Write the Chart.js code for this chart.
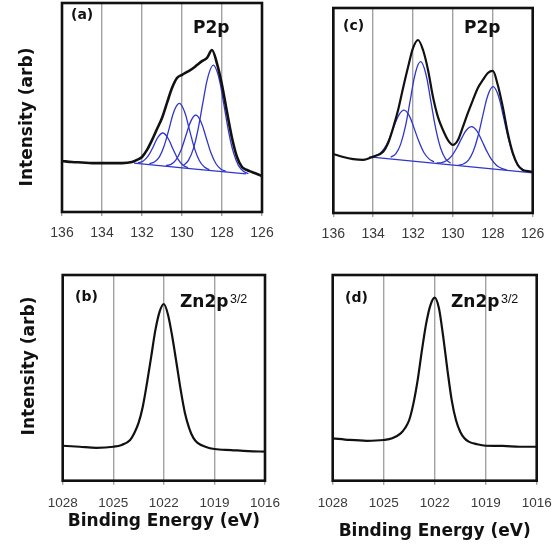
<!DOCTYPE html>
<html>
<head>
<meta charset="utf-8">
<script src="https://cdn.jsdelivr.net/npm/chart.js@4.4.1/dist/chart.umd.min.js"></script>
<style>
  body { margin: 0; background: #fff; }
  #wrap { position: relative; width: 552px; height: 545px; background: #fff; overflow: hidden; }
  #wrap canvas { position: absolute; }
</style>
</head>
<body>
<div id="wrap">
  <canvas id="panelA" width="290" height="250" style="left:0;top:0"></canvas>
  <canvas id="panelC" width="276" height="250" style="left:276px;top:0"></canvas>
  <canvas id="panelB" width="290" height="295" style="left:0;top:250px"></canvas>
  <canvas id="panelD" width="276" height="295" style="left:276px;top:250px"></canvas>
</div>
<script>
// tick labels
const pTicks = [136, 134, 132, 130, 128, 126];
const znTicks = [1028, 1025, 1022, 1019, 1016];

// (a) P2p measured spectrum
const aEnergy = [136, 135.5, 135, 134.5, 134, 133.5, 133, 132.5, 132.25, 132, 131.75, 131.5, 131.25, 131, 130.75, 130.5, 130.25, 130, 129.75, 129.5, 129.25, 129, 128.75, 128.5, 128.25, 128, 127.75, 127.5, 127.25, 127, 126.75, 126.5, 126.25, 126];
const aData = [24.4, 23.9, 23.7, 23.4, 23.4, 23.4, 23.4, 23.9, 24.9, 26.3, 29.7, 34.4, 39.7, 45.0, 52.2, 59.3, 64.1, 65.6, 67.0, 68.4, 70.3, 72.2, 73.7, 77.5, 71.0, 60.8, 47.8, 35.4, 26.3, 21.5, 20.1, 19.1, 18.2, 17.2];
// (a) fitted components + background
const a1E = [132.2, 131.95, 131.7, 131.45, 131.2, 130.95, 130.7, 130.45, 130.2, 129.95, 129.7];
const a1V = [23.5, 24.3, 26.7, 31.0, 35.8, 37.8, 35.3, 30.1, 25.3, 22.4, 21.2];
const a2E = [131.63, 131.38, 131.13, 130.88, 130.63, 130.38, 130.13, 129.88, 129.63, 129.38, 129.13, 128.88, 128.63];
const a2V = [23.1, 23.9, 26.4, 32.0, 40.4, 48.7, 52.0, 48.2, 39.4, 30.6, 24.5, 21.5, 20.2];
const a3E = [130.8, 130.55, 130.3, 130.05, 129.8, 129.55, 129.3, 129.05, 128.8, 128.55, 128.3, 128.05, 127.8];
const a3V = [22.2, 22.8, 24.9, 29.6, 36.7, 43.6, 46.4, 43.1, 35.8, 28.2, 23.1, 20.5, 19.4];
const a4E = [129.93, 129.68, 129.43, 129.18, 128.93, 128.68, 128.43, 128.18, 127.93, 127.68, 127.43, 127.18, 126.93, 126.68];
const a4V = [22.3, 24.7, 30.3, 40.4, 53.7, 65.5, 70.3, 65.1, 52.7, 39.0, 28.5, 22.3, 19.5, 18.4];
const aBgE = [132.4, 126.8];
const aBgV = [23.4, 18.2];

// (c) P2p measured spectrum
const cEnergy = [136, 135.5, 135, 134.5, 134, 133.5, 133.25, 133, 132.75, 132.5, 132.25, 132, 131.75, 131.5, 131.25, 131, 130.75, 130.5, 130.25, 130, 129.75, 129.5, 129.25, 129, 128.75, 128.5, 128.25, 128, 127.75, 127.5, 127.25, 127, 126.75, 126.5, 126.25, 126];
const cData = [28.8, 27.3, 26.3, 25.9, 27.5, 29.9, 34.1, 41.5, 50.2, 61.0, 71.2, 80.5, 84.4, 79.5, 69.8, 56.6, 46.8, 40.5, 35.6, 33.2, 35.6, 42.0, 48.8, 55.1, 61.0, 64.9, 68.3, 69.3, 62.4, 51.7, 39.0, 29.3, 23.4, 21.0, 20.5, 20.0];
// (c) fitted components + background
const c1E = [133.95, 133.7, 133.45, 133.2, 132.95, 132.7, 132.45, 132.2, 131.95, 131.7, 131.45, 131.2, 130.95];
const c1V = [27.8, 28.8, 31.4, 36.1, 42.4, 48.0, 50.2, 47.6, 41.4, 34.7, 29.4, 26.4, 24.9];
const c2E = [133.12, 132.87, 132.62, 132.37, 132.12, 131.87, 131.62, 131.37, 131.12, 130.87, 130.62, 130.37, 130.12];
const c2V = [27.2, 28.8, 33.6, 42.9, 56.2, 68.8, 73.8, 68.3, 55.2, 41.5, 31.7, 26.4, 24.3];
const c3E = [130.81, 130.56, 130.31, 130.06, 129.81, 129.56, 129.31, 129.06, 128.81, 128.56, 128.31, 128.06, 127.81, 127.56, 127.31];
const c3V = [24.4, 24.6, 25.6, 27.9, 31.7, 36.5, 40.6, 42.1, 40.2, 35.5, 30.3, 26.0, 23.2, 21.8, 21.0];
const c4E = [129.73, 129.48, 129.23, 128.98, 128.73, 128.48, 128.23, 127.98, 127.73, 127.48, 127.23, 126.98, 126.73, 126.48, 126.23];
const c4V = [23.3, 23.9, 25.7, 30.1, 38.0, 48.5, 57.9, 61.6, 57.4, 47.5, 36.6, 28.2, 23.3, 21.1, 20.0];
const cBgE = [134.2, 126];
const cBgV = [27.4, 19.6];

// (b), (d) Zn2p3/2
const znEnergy = [1028, 1027, 1026, 1025, 1024.5, 1024, 1023.75, 1023.5, 1023.25, 1023, 1022.75, 1022.5, 1022.25, 1022, 1021.75, 1021.5, 1021.25, 1021, 1020.75, 1020.5, 1020.25, 1020, 1019.5, 1019, 1018, 1017, 1016];
const bData = [17.0, 16.5, 16.0, 16.5, 17.4, 19.8, 23.2, 28.1, 36.0, 47.5, 60.3, 73.3, 82.2, 85.9, 80.6, 70.0, 57.2, 44.1, 32.9, 25.6, 20.8, 18.4, 16.4, 15.4, 14.9, 14.4, 14.1];
const dData = [20.6, 19.8, 19.4, 19.8, 20.6, 23.0, 25.5, 29.5, 37.6, 49.0, 63.5, 76.5, 85.4, 89.0, 83.8, 70.0, 53.8, 39.2, 29.5, 23.8, 20.6, 19.0, 17.7, 17.0, 16.9, 16.5, 16.5];

const BLUE = '#2f36cc';
const TITLE_FONT = { family: '"DejaVu Sans", sans-serif', weight: 'bold', size: 17 };

function pts(xs, ys) {
    return xs.map((x, i) => ({ x: x, y: ys[i] }));
}

function spectrum(xs, ys, width) {
    return { data: pts(xs, ys), borderColor: '#111', borderWidth: width, pointRadius: 0, cubicInterpolationMode: 'monotone', order: 0 };
}

function component(xs, ys) {
    return { data: pts(xs, ys), borderColor: BLUE, borderWidth: 1.3, pointRadius: 0, tension: 0.4, order: 1 };
}

// frame around the plot box, in-panel labels and the rotated y label
const panelDeco = {
    id: 'panelDeco',
    afterDraw(chart, args, o) {
        const { ctx, chartArea: a } = chart;
        ctx.save();
        ctx.strokeStyle = '#111';
        ctx.lineWidth = 2.6;
        ctx.strokeRect(a.left, a.top, a.right - a.left, a.bottom - a.top);
        ctx.fillStyle = '#111';
        ctx.textAlign = 'left';
        ctx.textBaseline = 'alphabetic';
        ctx.font = 'bold 14px "DejaVu Sans"';
        ctx.fillText(o.tag, o.tagX, o.tagY);
        ctx.font = 'bold 17px "DejaVu Sans"';
        ctx.fillText(o.name, o.nameX, o.nameY);
        if (o.sup) {
            const w = ctx.measureText(o.name).width;
            ctx.font = '12.5px "Liberation Sans"';
            ctx.fillText(o.sup, o.nameX + w + 1.5, o.nameY - 4.5);
        }
        if (o.yLabel) {
            ctx.translate(o.yLabelX, o.yLabelY);
            ctx.rotate(-Math.PI / 2);
            ctx.font = 'bold 17px "DejaVu Sans"';
            ctx.textAlign = 'center';
            ctx.textBaseline = 'middle';
            ctx.fillText(o.yLabel, 0, 0);
        }
        ctx.restore();
    }
};

function makePanel(id, cfg) {
    const ticks = cfg.ticks;
    new Chart(document.getElementById(id), {
        type: 'line',
        data: { datasets: cfg.datasets },
        plugins: [panelDeco],
        options: {
            responsive: false,
            animation: false,
            layout: { padding: { top: cfg.padTop, right: cfg.padRight, left: 0, bottom: 0 } },
            plugins: {
                legend: { display: false },
                tooltip: { enabled: false },
                panelDeco: cfg.deco
            },
            scales: {
                x: {
                    type: 'linear',
                    reverse: true,
                    min: ticks[ticks.length - 1],
                    max: ticks[0],
                    afterBuildTicks: s => { s.ticks = ticks.map(v => ({ value: v })); },
                    grid: { color: '#a2a2a2', lineWidth: 1.4, tickLength: 4, drawTicks: true },
                    border: { display: false },
                    ticks: {
                        autoSkip: false,
                        maxRotation: 0,
                        padding: cfg.tickPad,
                        color: '#3a3a3a',
                        font: { family: '"Liberation Sans", Arial, sans-serif', size: cfg.tickSize },
                        callback: v => String(v)
                    },
                    title: cfg.xTitle ? {
                        display: true, text: 'Binding Energy (eV)', color: '#111',
                        font: TITLE_FONT, padding: { top: 0, bottom: cfg.xTitlePad }
                    } : { display: false },
                    afterFit: s => { s.height = cfg.xHeight; s.paddingLeft = 0; s.paddingRight = 0; }
                },
                y: {
                    min: 0,
                    max: 100,
                    ticks: { display: false },
                    grid: { display: false },
                    border: { display: false },
                    afterFit: s => { s.width = cfg.yWidth; s.paddingTop = 0; s.paddingBottom = 0; }
                }
            }
        }
    });
}

makePanel('panelA', {
    ticks: pTicks, tickSize: 14, tickPad: 9,
    padTop: 3, padRight: 28, xHeight: 38, yWidth: 62,
    datasets: [
        spectrum(aEnergy, aData, 2.6),
        component(aBgE, aBgV),
        component(a1E, a1V), component(a2E, a2V), component(a3E, a3V), component(a4E, a4V)
    ],
    deco: { tag: '(a)', tagX: 71, tagY: 19, name: 'P2p', nameX: 193, nameY: 33,
            yLabel: 'Intensity (arb)', yLabelX: 27.5, yLabelY: 117 }
});

makePanel('panelC', {
    ticks: pTicks, tickSize: 14, tickPad: 9,
    padTop: 8, padRight: 19.3, xHeight: 37, yWidth: 57.3,
    datasets: [
        spectrum(cEnergy, cData, 2.2),
        component(cBgE, cBgV),
        component(c1E, c1V), component(c2E, c2V), component(c3E, c3V), component(c4E, c4V)
    ],
    deco: { tag: '(c)', tagX: 67, tagY: 30, name: 'P2p', nameX: 188, nameY: 33 }
});

makePanel('panelB', {
    ticks: znTicks, tickSize: 13.5, tickPad: 10.5,
    padTop: 25, padRight: 25, xHeight: 64.3, yWidth: 62.7,
    xTitle: true, xTitlePad: 13,
    datasets: [spectrum(znEnergy, bData, 2.2)],
    deco: { tag: '(b)', tagX: 75, tagY: 50.5, name: 'Zn2p', nameX: 180, nameY: 57.3, sup: '3/2',
            yLabel: 'Intensity (arb)', yLabelX: 29.5, yLabelY: 116 }
});

makePanel('panelD', {
    ticks: znTicks, tickSize: 13.5, tickPad: 10.5,
    padTop: 25, padRight: 15.3, xHeight: 64.3, yWidth: 56.7,
    xTitle: true, xTitlePad: 3,
    datasets: [spectrum(znEnergy, dData, 2.2)],
    deco: { tag: '(d)', tagX: 69, tagY: 52, name: 'Zn2p', nameX: 175, nameY: 57, sup: '3/2' }
});
</script>
</body>
</html>
